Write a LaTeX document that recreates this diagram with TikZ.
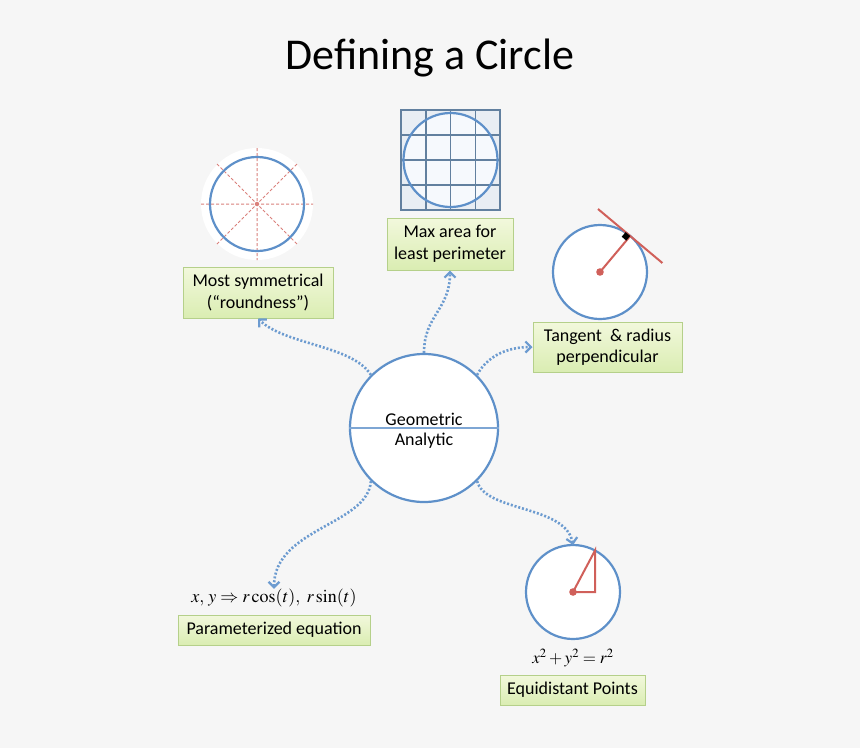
\documentclass[tikz,border=0pt]{standalone}
\usepackage{mathptmx}
\usepackage[no-math]{fontspec}
\setmainfont{Carlito}
\usetikzlibrary{arrows.meta,shadows}
\definecolor{bg}{HTML}{F6F6F6}
\definecolor{cblue}{HTML}{5E90C9}
\definecolor{lblue}{HTML}{6C9BD0}
\definecolor{gridc}{HTML}{62809F}
\definecolor{gridbg}{HTML}{E9EEF4}
\definecolor{gridin}{HTML}{F6F9FD}
\definecolor{cred}{HTML}{D0605A}
\definecolor{gtop}{HTML}{F2F8DC}
\definecolor{gbot}{HTML}{DAEDB2}
\definecolor{gborder}{HTML}{B5D08A}
\tikzset{
  gbox/.style={draw=gborder, line width=1pt, top color=gtop, bottom color=gbot,
    align=center, inner sep=0pt, font=\fontsize{18}{21.5}\selectfont,
    drop shadow={opacity=0.12, shadow xshift=1.2pt, shadow yshift=-1.2pt}},
  conn/.style={draw=lblue, line width=2.6pt, dash pattern=on 2pt off 1.9pt,
    -{Straight Barb[length=5.5pt,width=11pt,line width=2.2pt]}},
  bcirc/.style={draw=cblue, line width=2.2pt},
  rline/.style={draw=cred, line width=2pt},
  mtext/.style={font=\fontsize{18}{21}\selectfont, inner sep=0pt}
}
\begin{document}
\begin{tikzpicture}[x=1pt,y=-1pt]
\fill[bg] (0,0) rectangle (860,748);
\useasboundingbox (0,0) rectangle (860,748);
% title
\node[font=\fontsize{44}{52}\selectfont, inner sep=0pt] (title) at (430,58) {Defining a Circle};
% central circle
\node[circle, bcirc, fill=white, minimum size=148pt, inner sep=0pt] (C) at (424,428) {};
\draw[draw=cblue!80, line width=1.2pt] (C.west) -- (C.east);
\node[mtext] (geo) at (424,419.5) {Geometric};
\node[mtext] (ana) at (424,441) {Analytic};
% symmetry figure
\fill[white] (257,204) circle (56);
\draw[cred!80, line width=1pt, dash pattern=on 3pt off 2pt]
  (201,204) -- (313,204) (257,148) -- (257,260)
  (217,164) -- (297,244) (217,244) -- (297,164);
\draw[bcirc] (257,204) circle (47);
\fill[cred!80] (257,204) circle (2.2);
% grid figure
\fill[gridbg] (401,110) rectangle (500,210);
\fill[gridin] (450.5,160) circle (47);
\draw[gridc, line width=1.5pt] (401,110) rectangle (500,210);
\foreach \i in {1,2,3}{
  \draw[gridc, line width=1.5pt] (401+24.75*\i,110) -- (401+24.75*\i,210);
  \draw[gridc, line width=1.5pt] (401,110+25*\i) -- (500,110+25*\i);
}
\draw[bcirc] (450.5,160) circle (47);
% tangent figure
\draw[bcirc, fill=white] (600,272) circle (47);
\draw[rline] (598,209) -- (662.4,263);
\draw[rline] (600,272) -- (630.2,236);
\fill[black] (630.2,236) -- (626.3,240.6) -- (621.7,236.7) -- (625.6,232.1) -- cycle;
\fill[cred] (600,272) circle (3.8);
% equidistant figure
\draw[bcirc, fill=white] (573,592) circle (47);
\draw[rline, line join=miter] (573,592) -- (595,550.5) -- (595,592) -- cycle;
\fill[cred] (573,592) circle (3.8);
% boxes
\node[gbox, minimum width=150pt, minimum height=51pt] (most) at (258,292.5) {Most symmetrical\\(“roundness”)};
\node[gbox, minimum width=126pt, minimum height=52pt] (maxa) at (450,244) {Max area for\\least perimeter};
\node[gbox, minimum width=149pt, minimum height=50pt] (tang) at (607.5,347) {Tangent~ \& radius\\perpendicular};
\node[gbox, minimum width=192pt, minimum height=30pt] (param) at (274,630) {Parameterized equation};
\node[gbox, minimum width=145pt, minimum height=30pt] (equi) at (572.5,690) {Equidistant Points};
% math labels
\node[mtext] (pmath) at (274,598) {$x,\, y \Rightarrow r\cos(t),\ r\sin(t)$};
\node[mtext, font=\fontsize{17}{20}\selectfont] (emath) at (573,658) {$x^2+y^2=r^2$};
\coordinate (etop) at (573,545);
% connectors
\draw[conn] (C.135) .. controls (352,345) and (285,345) .. (most.south);
\draw[conn] (C.90) .. controls (424,315) and (450,310) .. (maxa.south);
\draw[conn] (C.45) .. controls (486,358) and (505,347) .. (tang.west);
\draw[conn] (C.-135) .. controls (368,525) and (274,528) .. (pmath.north);
\draw[conn] (C.-45) .. controls (485,512) and (566,505) .. (etop);
\end{tikzpicture}
\end{document}
